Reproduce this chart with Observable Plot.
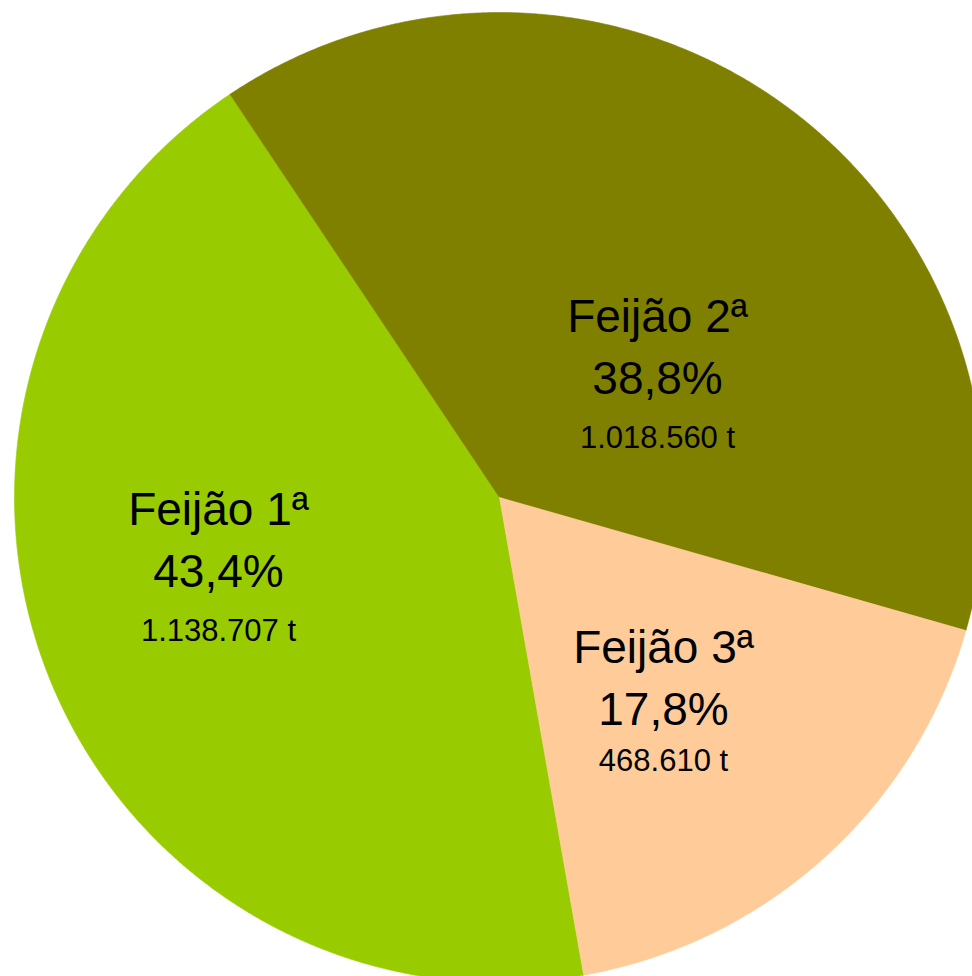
<!DOCTYPE html>
<html><head><meta charset="utf-8">
<script src="https://cdn.jsdelivr.net/npm/d3@7"></script>
<script src="https://cdn.jsdelivr.net/npm/@observablehq/plot@0.6"></script>
<style>html,body{margin:0;padding:0;background:#fff;overflow:hidden}</style>
</head><body><div id="chart"></div>
<script>
// ---- data ----
const categories = ["Feijão 1ª", "Feijão 2ª", "Feijão 3ª"];
const percentages = [43.4, 38.8, 17.8];
const tonnages = [1138707, 1018560, 468610];
const colors = ["#99CC00", "#808000", "#FFCC99"];

// ---- layout (pie in unit coords; centre 0,0, radius 1) ----
const startAngle = 170; // degrees clockwise from 12 o'clock, where the first slice begins
const labelAnchors = [ // middle-line baseline of each label, in unit coords
  {x: -0.5794, y: -0.1855, tonDy: 54},
  {x: 0.3258, y: 0.2144, tonDy: 54},
  {x: 0.3381, y: -0.4701, tonDy: 46}
];

const loc = d3.formatLocale({decimal: ",", thousands: ".", grouping: [3], currency: ["", ""]});
const fmtPct = loc.format(".1f");
const fmtTon = loc.format(",d");

const total = d3.sum(percentages);
const slicePts = [];
let a = startAngle;
categories.forEach((name, i) => {
  const span = percentages[i] / total * 360;
  const a0 = a, a1 = a + span;
  slicePts.push({name, x: 0, y: 0});
  const n = Math.ceil(span / 0.25);
  for (let k = 0; k <= n; k++) {
    const t = (a0 + (a1 - a0) * k / n) * Math.PI / 180;
    slicePts.push({name, x: Math.sin(t), y: Math.cos(t)});
  }
  slicePts.push({name, x: 0, y: 0});
  a = a1;
});

const labels = categories.map((name, i) => ({
  name,
  pct: fmtPct(percentages[i]) + "%",
  ton: fmtTon(tonnages[i]) + " t",
  x: labelAnchors[i].x, y: labelAnchors[i].y, tonDy: labelAnchors[i].tonDy
}));

const R = 485, cx = 499, cy = 497, W = 972, H = 976;

const chart = Plot.plot({
  width: W, height: H, margin: 0,
  x: {domain: [-cx / R, (W - cx) / R], axis: null},
  y: {domain: [-(H - cy) / R, cy / R], axis: null},
  color: {domain: categories, range: colors},
  style: {fontFamily: "'Liberation Sans', Arial, sans-serif", background: "white", color: "black"},
  marks: [
    Plot.line(slicePts, {x: "x", y: "y", z: "name", fill: "name", stroke: "name", strokeWidth: 0.6, curve: "linear", clip: "frame"}),
    Plot.text(labels, {x: "x", y: "y", text: "name", fontSize: 46, lineAnchor: "bottom", dy: -62, fill: "black"}),
    Plot.text(labels, {x: "x", y: "y", text: "pct", fontSize: 46, lineAnchor: "bottom", fill: "black"}),
    ...labels.map(d => Plot.text([d], {x: "x", y: "y", text: "ton", fontSize: 31, lineAnchor: "bottom", dy: d.tonDy, fill: "black"}))
  ]
});
document.getElementById("chart").appendChild(chart);
</script>
</body></html>
